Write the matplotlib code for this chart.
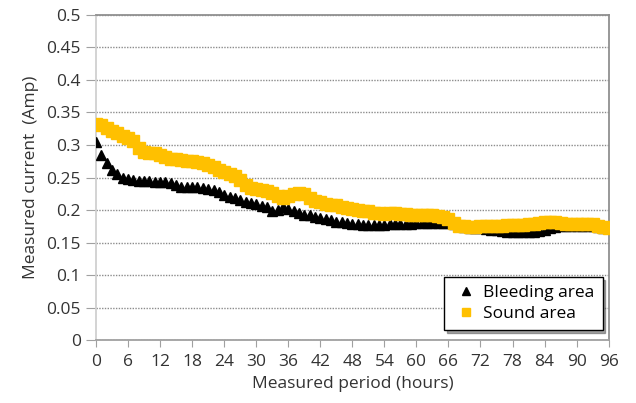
import numpy as np
import matplotlib.pyplot as plt

hours = list(range(0, 97))

bleeding = [
    0.305, 0.285, 0.272, 0.262, 0.255, 0.250, 0.247, 0.246, 0.245, 0.244,
    0.244, 0.243, 0.243, 0.243, 0.241, 0.238, 0.236, 0.235, 0.235, 0.235,
    0.234, 0.233, 0.231, 0.228, 0.223, 0.220, 0.218, 0.216, 0.213, 0.211,
    0.209, 0.206, 0.204, 0.198, 0.200, 0.204, 0.202, 0.198, 0.195, 0.193,
    0.192, 0.190, 0.188, 0.186, 0.184, 0.182, 0.181, 0.180, 0.179, 0.178,
    0.177, 0.177, 0.177, 0.177, 0.177, 0.178, 0.178, 0.178, 0.179, 0.179,
    0.180, 0.180, 0.180, 0.180, 0.180, 0.180, 0.180, 0.178, 0.176, 0.174,
    0.172, 0.172, 0.172, 0.171, 0.170, 0.169, 0.168, 0.167, 0.166, 0.166,
    0.166, 0.166, 0.167, 0.168, 0.170, 0.172, 0.174, 0.175, 0.176, 0.176,
    0.176, 0.175, 0.175, 0.175, 0.174, 0.173, 0.172,
]

sound = [
    0.333, 0.330, 0.326, 0.322, 0.318, 0.314, 0.311, 0.306, 0.296, 0.289,
    0.288, 0.288, 0.284, 0.281, 0.279, 0.278, 0.277, 0.276, 0.275, 0.274,
    0.272, 0.270, 0.266, 0.262, 0.258, 0.255, 0.252, 0.246, 0.238, 0.234,
    0.232, 0.231, 0.229, 0.226, 0.222, 0.219, 0.222, 0.225, 0.226, 0.224,
    0.218, 0.214, 0.212, 0.210, 0.208, 0.207, 0.205, 0.203, 0.201, 0.200,
    0.199, 0.198, 0.196, 0.195, 0.194, 0.195, 0.195, 0.194, 0.194, 0.193,
    0.193, 0.193, 0.193, 0.192, 0.191, 0.190, 0.186, 0.180, 0.176, 0.175,
    0.174, 0.174, 0.175, 0.175, 0.175, 0.176, 0.176, 0.177, 0.177, 0.177,
    0.177, 0.178, 0.179, 0.180, 0.181, 0.182, 0.181, 0.180, 0.179, 0.179,
    0.178, 0.178, 0.179, 0.178, 0.176, 0.174, 0.173,
]

x_ticks = list(range(0, 97, 6))
y_ticks = [0, 0.05, 0.1, 0.15, 0.2, 0.25, 0.3, 0.35, 0.4, 0.45, 0.5]

plt.rcParams['font.family'] = ['Open Sans', 'DejaVu Sans']

fig = plt.figure(figsize=(6.36, 4.03), dpi=100)
ax = fig.add_axes([0.151, 0.156, 0.806, 0.807])

ax.plot(hours, bleeding, "^", color="black", markersize=7, label="Bleeding area", zorder=3)
ax.plot(hours, sound, "s", color="#FFC000", markersize=8, label="Sound area", zorder=4)

ax.set_xlim(0, 96)
ax.set_ylim(0, 0.5)
ax.set_xticks(x_ticks)
ax.set_yticks(y_ticks)
ax.set_yticklabels([("%g" % v) for v in y_ticks])

ax.yaxis.grid(True, linestyle=(0, (1, 1)), color="#8c8c8c", linewidth=1)
ax.set_axisbelow(True)

ax.spines["left"].set_color("#d0d0d0")
ax.spines["bottom"].set_color("#a0a0a0")
ax.spines["top"].set_color("#909090")
ax.spines["right"].set_color("#909090")
for s in ax.spines.values():
    s.set_linewidth(1.3)

ax.tick_params(axis="x", direction="out", length=5, color="#a0a0a0", labelsize=12.5, pad=5, labelcolor="#333333")
ax.tick_params(axis="y", direction="out", length=7, color="#a0a0a0", labelsize=12.5, pad=4, labelcolor="#333333")

ax.set_xlabel("Measured period (hours)", fontsize=12.5, color="#333333", labelpad=4)
ax.set_ylabel("Measured current  (Amp)", fontsize=12.5, color="#333333", labelpad=5)

leg = ax.legend(loc="lower right", bbox_to_anchor=(0.988, 0.031), borderaxespad=0,
                fancybox=False, shadow=True, edgecolor="black", framealpha=1,
                fontsize=12.5, markerscale=0.75, handletextpad=0.2, handlelength=1.6,
                borderpad=0.45, labelspacing=0.3)
leg.get_frame().set_linewidth(1.0)

fig.savefig("out.png", dpi=100)
